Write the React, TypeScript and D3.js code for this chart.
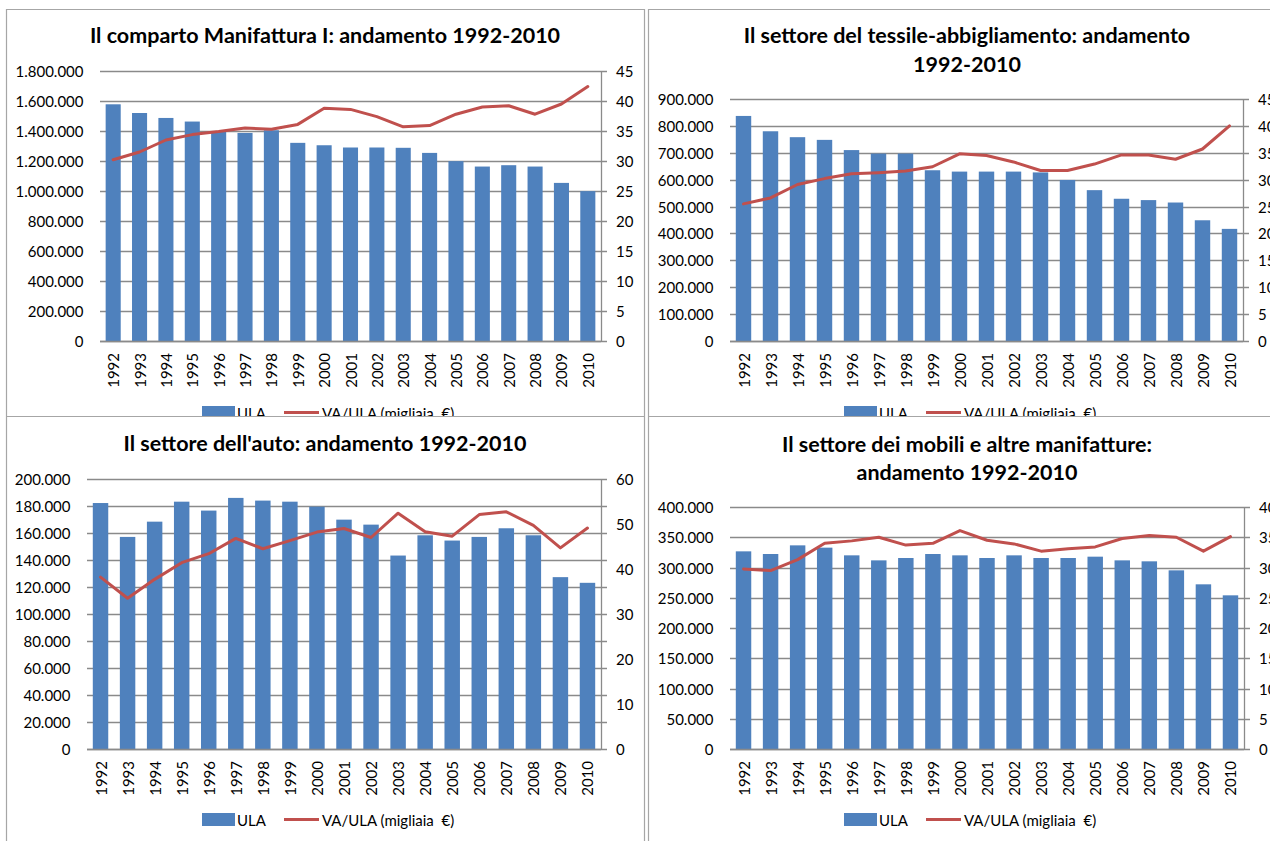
import React from "react";
import * as d3 from "d3";

const YEARS = ["1992","1993","1994","1995","1996","1997","1998","1999","2000","2001","2002","2003","2004","2005","2006","2007","2008","2009","2010"];

const MANIF_ULA = [1578000,1520000,1487000,1463000,1398000,1387000,1405000,1321000,1305000,1290000,1290000,1288000,1254000,1199000,1163000,1172000,1163000,1054000,999000];
const MANIF_VA = [30.2,31.5,33.5,34.4,34.9,35.5,35.3,36.1,38.8,38.6,37.4,35.7,35.9,37.8,39.0,39.2,37.8,39.5,42.4];

const TESS_ULA = [837000,780000,758000,748000,710000,697000,697000,635000,630000,630000,630000,627000,599000,561000,529000,524000,515000,449000,417000];
const TESS_VA = [25.5,26.6,29.1,30.2,31.1,31.3,31.6,32.4,34.8,34.5,33.3,31.7,31.7,32.9,34.6,34.6,33.8,35.7,40.0];

const AUTO_ULA = [182200,157100,168400,183200,176600,186000,184000,183200,179500,169900,166200,143300,158300,154400,157100,163500,158300,127300,123100];
const AUTO_VA = [38.2,33.5,37.7,41.4,43.4,46.8,44.5,46.3,48.2,49.0,47.0,52.4,48.3,47.3,52.1,52.7,49.7,44.7,49.1];

const MOB_ULA = [326700,322300,336600,332800,320100,311800,315700,322300,320100,315700,320100,315700,315700,317900,311800,310200,295300,272200,254000];
const MOB_VA = [29.75,29.5,31.3,34.0,34.4,35.0,33.7,34.0,36.1,34.5,33.9,32.7,33.1,33.4,34.8,35.3,35.0,32.7,35.1];

const TITLE_MANIF = ["Il comparto Manifattura I: andamento 1992-2010"];
const TITLE_TESS = ["Il settore del tessile-abbigliamento: andamento", "1992-2010"];
const TITLE_AUTO = ["Il settore dell'auto: andamento 1992-2010"];
const TITLE_MOB = ["Il settore dei mobili e altre manifatture:", "andamento 1992-2010"];

const LEGEND_LABELS = ["ULA", "VA/ULA (migliaia\u00a0 €)"];

const itLocale = d3.formatLocale({ decimal: ",", thousands: ".", grouping: [3], currency: ["€", ""] });
const fmtUla = itLocale.format(",d");

const FONT = "Lato, 'Open Sans', sans-serif";
const BLUE = "#4F81BD";
const RED = "#C0504D";
const GRID = "#8a8a8a";
const BORDER = "#a6a6a6";
const FS = 15;

type PanelProps = {
  id: string;
  x: number;
  y: number;
  w: number;
  h: number;
  title: string[];
  titleY: number[];
  plot: { left: number; right: number; top: number; bottom: number };
  ula: number[];
  va: number[];
  ulaMax: number;
  ulaStep: number;
  vaMax: number;
  vaStep: number;
};

function Panel(p: PanelProps) {
  const xScale = d3.scaleBand<string>().domain(YEARS).range([p.plot.left, p.plot.right]).paddingInner(0.75 / 1.75).paddingOuter(0.75 / 3.5);
  const yL = d3.scaleLinear().domain([0, p.ulaMax]).range([p.plot.bottom, p.plot.top]);
  const yR = d3.scaleLinear().domain([0, p.vaMax]).range([p.plot.bottom, p.plot.top]);
  const ticksL = d3.range(0, p.ulaMax + 1, p.ulaStep);
  const ticksR = d3.range(0, p.vaMax + 0.001, p.vaStep);
  const bw = xScale.bandwidth();
  const line = d3.line<number>().x((_, i) => (xScale(YEARS[i]) as number) + bw / 2).y((d) => yR(d));
  const cx = p.w / 2;
  return (
    <g transform={`translate(${p.x},${p.y})`}>
      <defs>
        <clipPath id={`clip-${p.id}`}>
          <rect x={0} y={0} width={p.w} height={p.h} />
        </clipPath>
      </defs>
      <g clipPath={`url(#clip-${p.id})`}>
        <rect x={0} y={0} width={p.w} height={p.h} fill="#fff" />
        {p.title.map((t, i) => (
          <text key={i} x={cx} y={p.titleY[i]} textAnchor="middle" dominantBaseline="central" fontFamily={FONT} fontWeight="bold" fontSize={21.5} fill="#000">{t}</text>
        ))}
        {ticksL.map((t) => (
          <g key={`gl${t}`}>
            <line x1={p.plot.left} x2={p.plot.right + 6} y1={Math.round(yL(t)) + 0.5} y2={Math.round(yL(t)) + 0.5} stroke={GRID} strokeWidth={1.3} />
            <text x={p.plot.left - 16.5} y={yL(t)} textAnchor="end" dominantBaseline="central" fontFamily={FONT} fontSize={FS} fill="#000">{fmtUla(t)}</text>
          </g>
        ))}
        {ticksR.map((t) => (
          <text key={`tr${t}`} x={p.plot.right + 15} y={yR(t)} textAnchor="start" dominantBaseline="central" fontFamily={FONT} fontSize={FS} fill="#000">{d3.format("d")(t)}</text>
        ))}
        <line x1={p.plot.right + 0.5} x2={p.plot.right + 0.5} y1={p.plot.top} y2={p.plot.bottom} stroke={GRID} strokeWidth={1.3} />
        {p.ula.map((v, i) => (
          <rect key={`b${i}`} x={xScale(YEARS[i])} y={yL(v)} width={bw} height={yL(0) - yL(v)} fill={BLUE} />
        ))}
        <line x1={p.plot.left} x2={p.plot.right} y1={Math.round(yL(0)) + 0.5} y2={Math.round(yL(0)) + 0.5} stroke={GRID} strokeWidth={1.3} />
        <path d={line(p.va) || ""} fill="none" stroke={RED} strokeWidth={3} strokeLinejoin="round" strokeLinecap="round" />
        {YEARS.map((yr) => (
          <text key={`x${yr}`} transform={`translate(${(xScale(yr) as number) + bw / 2},${p.plot.bottom + 12}) rotate(-90)`} textAnchor="end" dominantBaseline="central" fontFamily={FONT} fontSize={FS} fill="#000">{yr}</text>
        ))}
        <g>
          <rect x={196} y={397} width={33} height={13} fill={BLUE} />
          <text x={231} y={404} dominantBaseline="central" fontFamily={FONT} fontSize={FS} fill="#000">{LEGEND_LABELS[0]}</text>
          <line x1={278} x2={313} y1={403.5} y2={403.5} stroke={RED} strokeWidth={3} />
          <text x={316} y={404} dominantBaseline="central" fontFamily={FONT} fontSize={FS} fill="#000">{LEGEND_LABELS[1]}</text>
        </g>
      </g>
    </g>
  );
}

export default function App() {
  const W = 1270;
  const H = 841;
  return (
    <svg width={W} height={H} style={{ position: "absolute", left: 0, top: 0, background: "#fff" }}>
      <rect x={0} y={0} width={W} height={H} fill="#fff" />
      <Panel id="manif" x={6} y={9} w={638} h={407} title={TITLE_MANIF} titleY={[26]}
        plot={{ left: 94, right: 595, top: 62, bottom: 332 }} ula={MANIF_ULA} va={MANIF_VA}
        ulaMax={1800000} ulaStep={200000} vaMax={45} vaStep={5} />
      <Panel id="tess" x={648} y={9} w={638} h={407} title={TITLE_TESS} titleY={[26, 55]}
        plot={{ left: 82, right: 595, top: 90, bottom: 332 }} ula={TESS_ULA} va={TESS_VA}
        ulaMax={900000} ulaStep={100000} vaMax={45} vaStep={5} />
      <Panel id="auto" x={6} y={416} w={638} h={440} title={TITLE_AUTO} titleY={[27]}
        plot={{ left: 81, right: 595, top: 63, bottom: 333 }} ula={AUTO_ULA} va={AUTO_VA}
        ulaMax={200000} ulaStep={20000} vaMax={60} vaStep={10} />
      <Panel id="mob" x={648} y={416} w={638} h={440} title={TITLE_MOB} titleY={[28, 56]}
        plot={{ left: 82, right: 596, top: 91, bottom: 333 }} ula={MOB_ULA} va={MOB_VA}
        ulaMax={400000} ulaStep={50000} vaMax={40} vaStep={5} />
      <line x1={6.5} x2={6.5} y1={9} y2={H} stroke={BORDER} strokeWidth={1.2} />
      <line x1={6} x2={644.5} y1={9.5} y2={9.5} stroke={BORDER} strokeWidth={1.2} />
      <line x1={648} x2={W} y1={9.5} y2={9.5} stroke={BORDER} strokeWidth={1.2} />
      <line x1={644.5} x2={644.5} y1={9} y2={H} stroke={BORDER} strokeWidth={1.2} />
      <line x1={648.5} x2={648.5} y1={9} y2={H} stroke={BORDER} strokeWidth={1.2} />
      <line x1={6} x2={644.5} y1={416.5} y2={416.5} stroke={BORDER} strokeWidth={1.2} />
      <line x1={648} x2={W} y1={416.5} y2={416.5} stroke={BORDER} strokeWidth={1.2} />
    </svg>
  );
}
